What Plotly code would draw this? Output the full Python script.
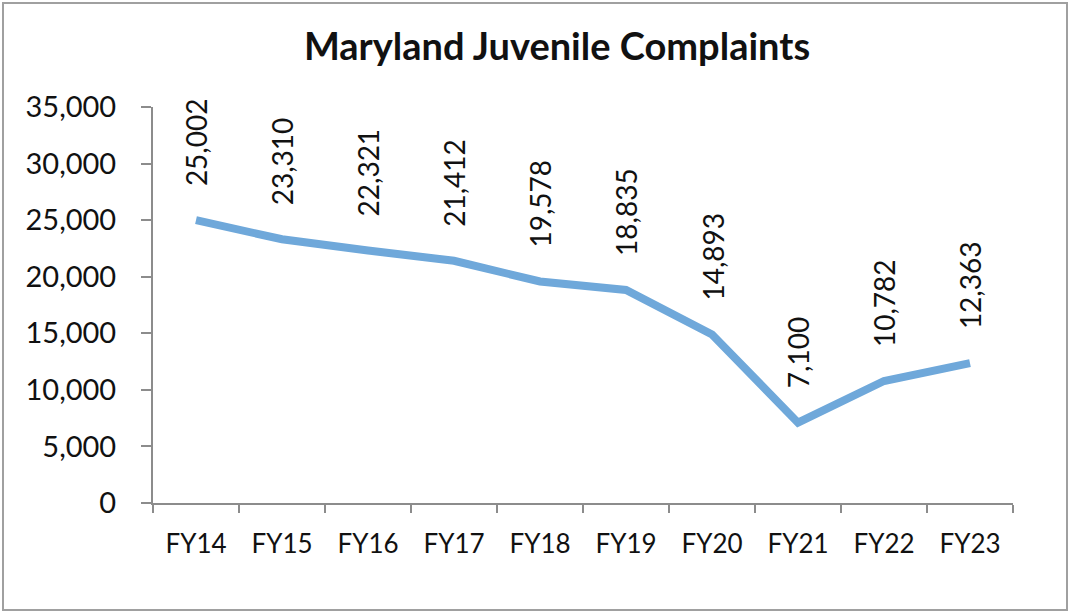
import plotly.graph_objects as go

categories = ["FY14", "FY15", "FY16", "FY17", "FY18", "FY19", "FY20", "FY21", "FY22", "FY23"]
complaints = [25002, 23310, 22321, 21412, 19578, 18835, 14893, 7100, 10782, 12363]
y_ticks = [0, 5000, 10000, 15000, 20000, 25000, 30000, 35000]

W, H = 1070, 613
L, R, T, B = 153, 57, 107, 110
pw, ph = W - L - R, H - T - B

FONT = "Lato"
AX = "#8c8c8c"

fig = go.Figure()
fig.add_trace(go.Scatter(
    x=categories, y=complaints, mode="lines",
    line=dict(color="#6fa8da", width=8), hoverinfo="skip"))

for c, v in zip(categories, complaints):
    fig.add_annotation(x=c, y=v, text=f"{v:,}", textangle=-90, showarrow=False,
                       xanchor="center", yanchor="bottom", yshift=32,
                       font=dict(family=FONT, size=28, color="#111"))

# outer border
fig.add_shape(type="rect", xref="paper", yref="paper",
              x0=(3 - L) / pw, x1=(1067 - L) / pw,
              y0=(H - B - 610) / ph, y1=(H - B - 3) / ph,
              line=dict(color="#a0a0a0", width=2), fillcolor="rgba(0,0,0,0)")

fig.update_layout(
    width=W, height=H, margin=dict(l=L, r=R, t=T, b=B),
    paper_bgcolor="white", plot_bgcolor="white", showlegend=False,
    title=dict(text="<b>Maryland Juvenile Complaints</b>", x=557 / W, xanchor="center",
               y=1 - 47 / H, yanchor="middle",
               font=dict(family=FONT, size=38, color="#111")),
    xaxis=dict(type="category", showgrid=False, showline=True, linecolor=AX, linewidth=2,
               ticks="outside", tickson="boundaries", ticklen=8, tickwidth=2, tickcolor=AX,
               tickfont=dict(family=FONT, size=26, color="#111"), ticklabelstandoff=17,
               range=[-0.5, 9.5], fixedrange=True),
    yaxis=dict(range=[0, 35000], tickvals=y_ticks, tickformat=",", showgrid=False,
               showline=True, linecolor=AX, linewidth=2, ticks="outside", ticklen=10,
               tickwidth=2, tickcolor=AX, zeroline=False,
               tickfont=dict(family=FONT, size=29, color="#111"), ticklabelstandoff=19,
               fixedrange=True),
)

fig.write_html("out.html", config={"displayModeBar": False},
               post_script="document.body.style.margin='0';document.body.style.overflow='hidden';")
